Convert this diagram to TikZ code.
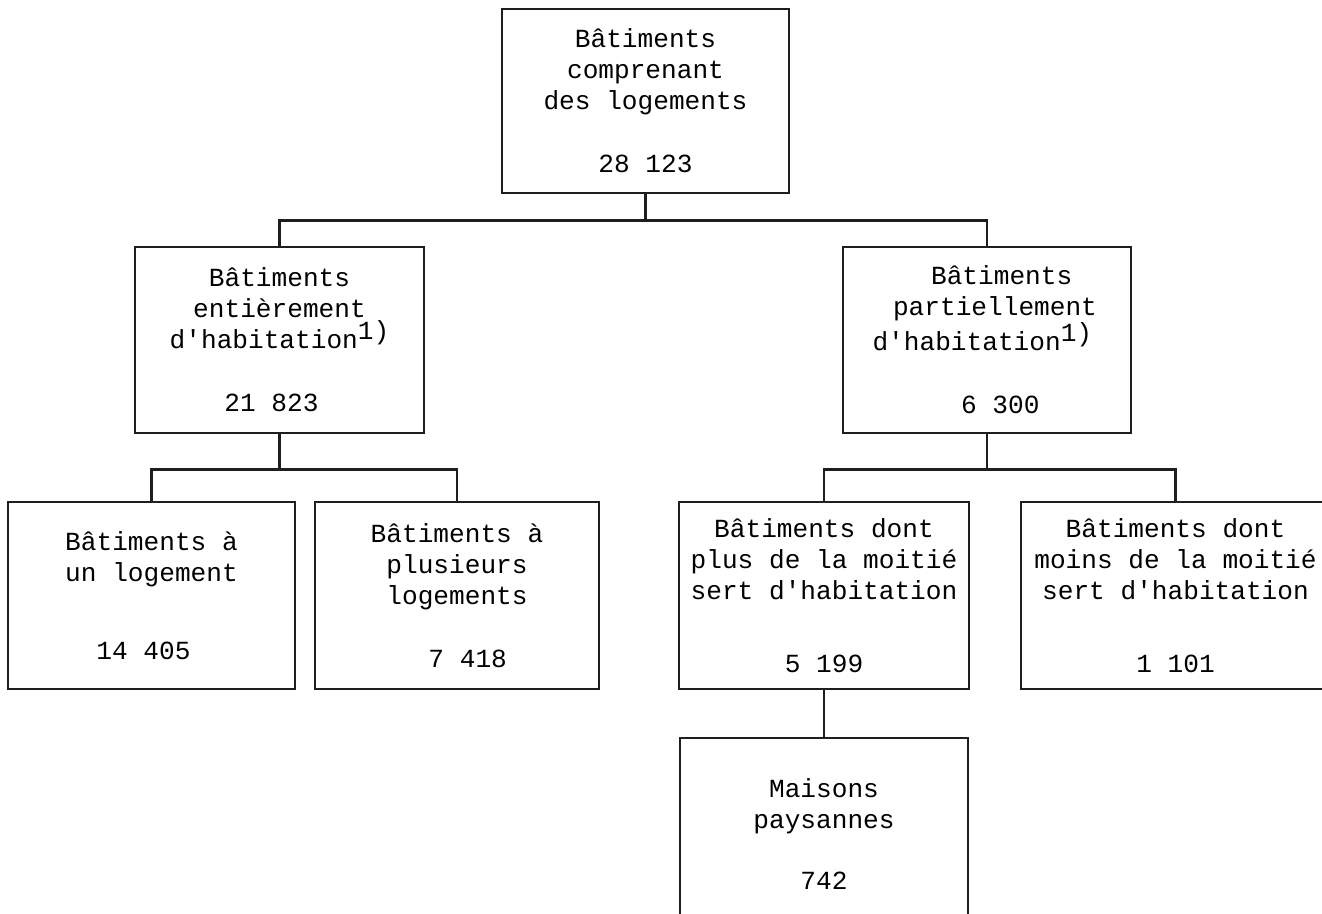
\documentclass[tikz,border=0pt]{standalone}
\usepackage{fontspec}
\setmonofont{Liberation Mono}
\usepackage{xcolor}
\usepackage{tikz}

\newcommand{\nudge}[2]{\hspace*{#1}#2\hspace*{-#1}}
\newcommand{\fnmark}{\raisebox{7pt}{1)}}

\begin{document}
\begin{tikzpicture}[x=0.75pt,y=0.75pt,yscale=-1,xscale=1,
  box/.style 2 args={draw={rgb, 255:red, 30; green, 30; blue, 30 }, line width=2pt, inner sep=0pt, align=center, minimum width=#1*0.75pt, minimum height=#2*0.75pt, font=\ttfamily\fontsize{19.6}{23.3}\selectfont},
  link/.style={draw={rgb, 255:red, 30; green, 30; blue, 30 }, line width=2pt}]
\useasboundingbox (0,0) rectangle (1322,914);

%Shape: Rectangle (top)
\node [box={287}{184}] (top) at (645.5,101) {B\^atiments\\comprenant\\des logements\\[24pt]28 123};

%Shape: Rectangle (second row)
\node [box={289}{186}] (entier) at (279.5,340) {B\^atiments\\enti\`erement\\d'habitation\fnmark\\[24pt]\nudge{-6pt}{21 823}};
\node [box={288}{186}] (partiel) at (987,340) {\nudge{11pt}{B\^atiments}\\\nudge{12pt}{partiellement}\\\nudge{-7pt}{d'habitation\fnmark}\\[24pt]\nudge{10pt}{6 300}};

%Shape: Rectangle (third row)
\node [box={287}{187}] (unlog) at (151.5,595.5) {B\^atiments \`a\\un logement\\[35pt]\nudge{-6pt}{14 405}};
\node [box={284}{187}] (pluslog) at (457,595.5) {B\^atiments \`a\\plusieurs\\logements\\[24pt]\nudge{8pt}{7 418}};
\node [box={290}{187}] (plusmoit) at (824,595.5) {B\^atiments dont\\plus de la moiti\'e\\sert d'habitation\\[31pt]5 199};
\node [box={309}{187}] (moinsmoit) at (1175.5,595.5) {B\^atiments dont\\moins de la moiti\'e\\sert d'habitation\\[31pt]1 101};

%Shape: Rectangle (bottom)
\node [box={288}{192}] (paysan) at (824,834) {Maisons\\paysannes\\[22pt]742};

%Connectors
\path (top.south) ++(0,26) coordinate (jtop);
\draw [link] (top.south) -- (jtop);
\draw [link] (entier.north) |- (jtop) -| (partiel.north);

\path (entier.south) ++(0,35) coordinate (jleft);
\draw [link] (entier.south) -- (jleft);
\draw [link] (unlog.north) |- (jleft) -| (pluslog.north);

\path (partiel.south) ++(0,35) coordinate (jright);
\draw [link] (partiel.south) -- (jright);
\draw [link] (plusmoit.north) |- (jright) -| (moinsmoit.north);

\draw [link] (plusmoit.south) -- (paysan.north);

\end{tikzpicture}
\end{document}
